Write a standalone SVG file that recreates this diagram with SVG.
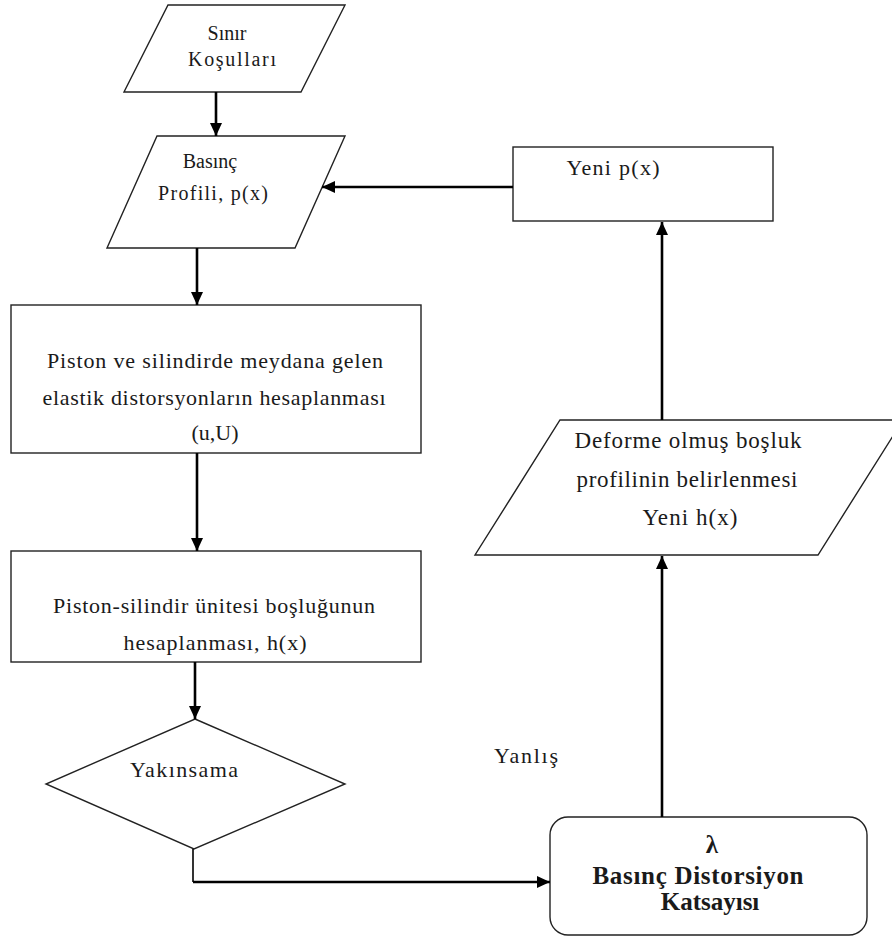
<svg xmlns="http://www.w3.org/2000/svg" width="892" height="938" viewBox="0 0 892 938">
<style>
.shape{fill:#fff;stroke:#222;stroke-width:1.4}
.conn{fill:none;stroke:#000;stroke-width:2.6}
.thin{fill:none;stroke:#000;stroke-width:1.6}
text{font-family:"Liberation Serif","Times New Roman",serif;fill:#1a1a1a;text-anchor:middle}
.t20{font-size:20px}
.t22{font-size:22px}
.t23{font-size:23px}
.b{font-size:25px;font-weight:bold}
</style>
<defs>
<marker id="ah" markerUnits="userSpaceOnUse" markerWidth="14" markerHeight="12" refX="13" refY="6" orient="auto">
<path d="M0,0 L13,6 L0,12 Z" fill="#000"/>
</marker>
</defs>
<rect width="892" height="938" fill="#fff"/>
<g id="n-sinir">
<polygon class="shape" points="168,5 345,5 301,92 124,92"/>
<text class="t20" x="227" y="40">Sınır</text>
<text class="t20" x="232" y="66" textLength="88">Koşulları</text>
</g>
<g id="n-basinc">
<polygon class="shape" points="157,136 345,136 295,248 107,248"/>
<text class="t20" x="210" y="168">Basınç</text>
<text class="t20" x="213" y="200" textLength="110">Profili, p(x)</text>
</g>
<g id="n-piston">
<rect class="shape" x="11" y="305" width="410" height="148"/>
<text class="t22" x="215" y="368" textLength="336">Piston ve silindirde meydana gelen</text>
<text class="t22" x="214" y="405" textLength="343">elastik distorsyonların hesaplanması</text>
<text class="t22" x="215" y="440">(u,U)</text>
</g>
<g id="n-bosluk">
<rect class="shape" x="11" y="551" width="410" height="111"/>
<text class="t22" x="214" y="613" textLength="322">Piston-silindir ünitesi boşluğunun</text>
<text class="t22" x="215" y="650" textLength="183">hesaplanması, h(x)</text>
</g>
<g id="n-yakinsama">
<polygon class="shape" points="195,719 345,784 194,849 46,784"/>
<text class="t22" x="184" y="777" textLength="108">Yakınsama</text>
</g>
<g id="n-lambda">
<rect class="shape" x="550" y="817" width="317" height="118" rx="18" ry="18"/>
<text class="b" x="712" y="853">λ</text>
<text class="b" x="698" y="884" textLength="211">Basınç Distorsiyon</text>
<text class="b" x="710" y="910">Katsayısı</text>
</g>
<g id="n-deforme">
<polygon class="shape" points="560,420 903,420 818,555 475,555"/>
<text class="t23" x="688" y="448" textLength="227">Deforme olmuş boşluk</text>
<text class="t23" x="687" y="487" textLength="221">profilinin belirlenmesi</text>
<text class="t23" x="690" y="525" textLength="95">Yeni h(x)</text>
</g>
<g id="n-yenip">
<rect class="shape" x="513" y="147" width="260" height="74"/>
<text class="t22" x="613" y="175" textLength="93">Yeni p(x)</text>
</g>
<g id="l-yanlis">
<text class="t22" x="526" y="763" textLength="64">Yanlış</text>
</g>
<g id="connectors">
<line class="conn" x1="216" y1="92" x2="216" y2="136" marker-end="url(#ah)"/>
<line class="conn" x1="197" y1="248" x2="197" y2="305" marker-end="url(#ah)"/>
<line class="conn" x1="197" y1="453" x2="197" y2="551" marker-end="url(#ah)"/>
<line class="conn" x1="195" y1="662" x2="195" y2="719" marker-end="url(#ah)"/>
<polyline class="thin" points="193,849 193,882"/>
<line class="conn" x1="193" y1="882" x2="550" y2="882" marker-end="url(#ah)"/>
<line class="conn" x1="662" y1="817" x2="662" y2="556" marker-end="url(#ah)"/>
<line class="conn" x1="662" y1="420" x2="662" y2="222" marker-end="url(#ah)"/>
<line class="conn" x1="513" y1="187" x2="322" y2="187" marker-end="url(#ah)"/>
</g>
</svg>
